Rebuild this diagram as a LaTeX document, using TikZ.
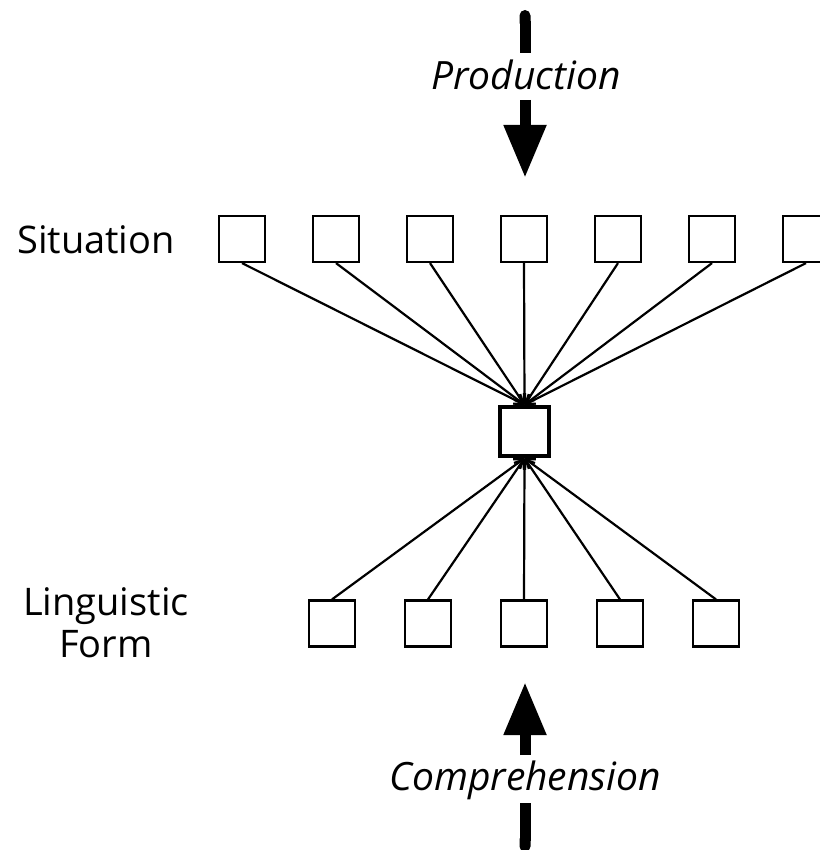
\documentclass[tikz,border=0pt]{standalone}
\usepackage{fontspec}
\setmainfont{Open Sans}
\usetikzlibrary{arrows.meta}
\tikzset{
  unit/.style={draw, line width=2.2pt, minimum size=46pt, inner sep=0pt},
  hub/.style={draw, line width=4.5pt, minimum size=49pt, inner sep=0pt},
  link/.style={line width=2.2pt, -{Straight Barb[length=8pt,width=12pt]}},
  lbl/.style={font=\fontsize{38}{44}\selectfont, inner sep=0pt, anchor=base},
  dirlbl/.style={font=\fontsize{39}{45}\selectfont\itshape, inner sep=0pt, anchor=base},
  bigline/.style={line width=11pt, {Round Cap[]}-},
  bigarrow/.style={line width=11pt, -{Triangle[length=53pt,width=40pt]}}
}
\begin{document}
\begin{tikzpicture}[x=1pt,y=-1pt]
\useasboundingbox (0,0) rectangle (819,850);
% situation row
\foreach \i/\x in {1/242,2/336,3/430,4/524,5/618,6/712,7/806}
  \node[unit] (s\i) at (\x,239) {};
% linguistic row
\foreach \i/\x in {1/332,2/428,3/524,4/620,5/716}
  \node[unit] (l\i) at (\x,623.5) {};
% central
\node[hub] (c) at (524.5,431.5) {};
\foreach \i in {1,...,7}
  \draw[link] (s\i.south) -- (c.north);
\foreach \i in {1,...,5}
  \draw[link] (l\i.north) -- (c.south);
% labels
\node[lbl] (sit) at (96,253) {Situation};
\node[lbl] (ling) at (106,615) {Linguistic};
\node[lbl] (form) at (106,657) {Form};
% production
\node[dirlbl] (prod) at (526,90) {Production};
\coordinate (ptop) at (525,10);
\coordinate (pgap1) at (525,53);
\coordinate (pgap2) at (525,100);
\coordinate (ptip) at (525,178);
\draw[bigline] (ptop) -- (pgap1);
\draw[bigarrow] (pgap2) -- (ptip);
% comprehension
\node[dirlbl] (comp) at (525,790) {Comprehension};
\coordinate (cbot) at (525,852);
\coordinate (cgap1) at (525,803);
\coordinate (cgap2) at (525,755);
\coordinate (ctip) at (525,682);
\draw[bigline] (cbot) -- (cgap1);
\draw[bigarrow] (cgap2) -- (ctip);
\end{tikzpicture}
\end{document}
